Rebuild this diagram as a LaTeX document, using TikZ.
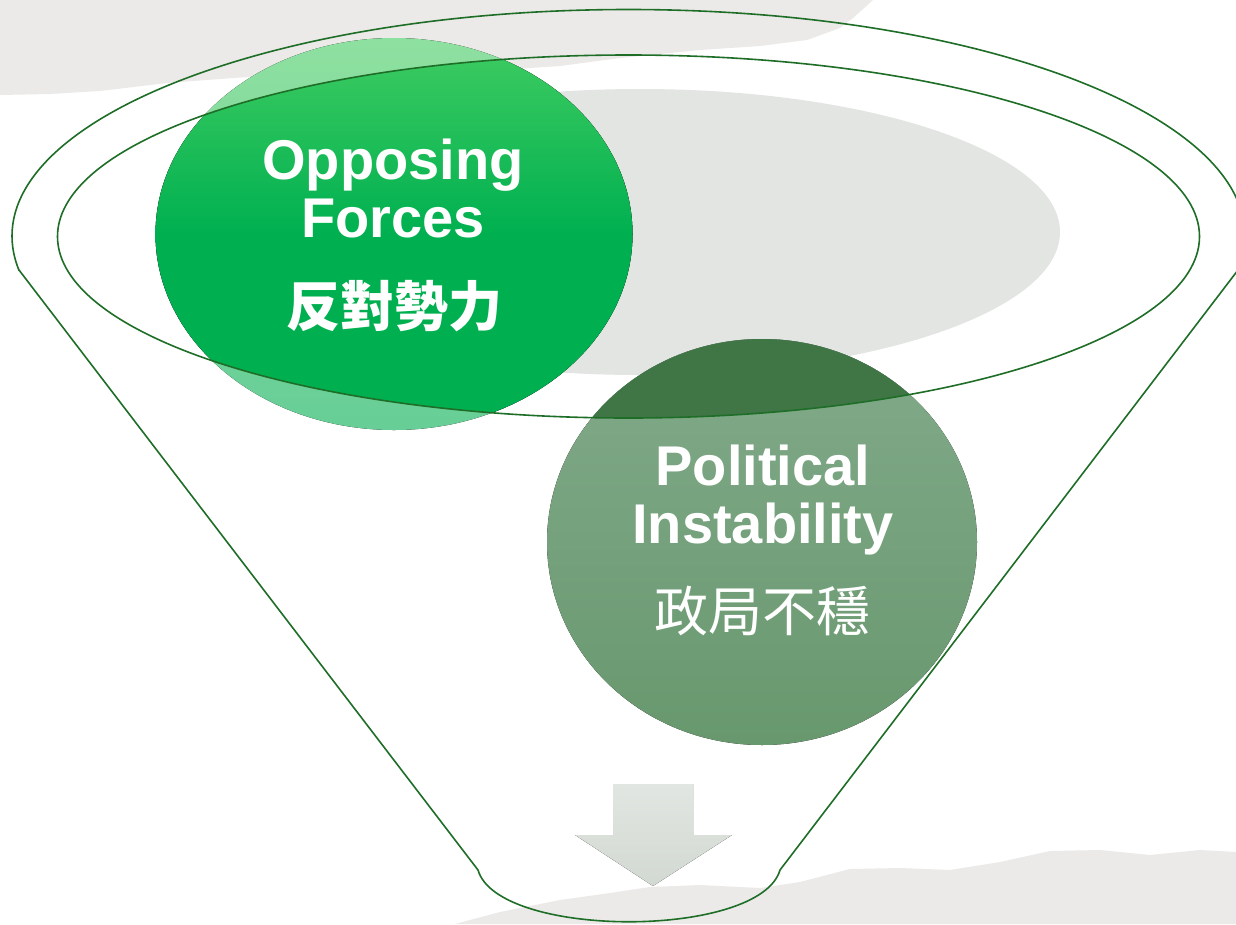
\documentclass[tikz,border=0pt]{standalone}
\usepackage{fontspec}
\setmainfont{Liberation Sans}
\newfontfamily\cjkfont{Noto Sans CJK TC}
\begin{document}
\begin{tikzpicture}[x=1pt,y=-1pt]
\definecolor{paper}{RGB}{236,234,232}
\definecolor{greyell}{RGB}{226,229,226}
\definecolor{funnelc}{RGB}{30,110,40}
\definecolor{gtop}{RGB}{64,204,98}
\definecolor{gmid}{RGB}{0,176,80}
\definecolor{gltop}{RGB}{142,224,160}
\definecolor{glbot}{RGB}{102,206,150}
\definecolor{ptop}{RGB}{130,170,138}
\definecolor{pbot}{RGB}{104,152,110}
\definecolor{pdark}{RGB}{64,118,70}
\definecolor{atop}{RGB}{226,230,226}
\definecolor{abot}{RGB}{210,216,210}
\tikzset{
  funnel/.style={draw=funnelc, line width=1.6pt, line join=round},
  en/.style={text=white, font=\fontsize{56}{60}\selectfont\bfseries, anchor=base, inner sep=0pt},
  zh/.style={text=white, font=\cjkfont\fontsize{54}{58}\selectfont, anchor=base, inner sep=0pt},
}
% canvas
\fill[white] (0,0) rectangle (1236,924);
\useasboundingbox (0,0) rectangle (1236,924);
% torn paper top
\fill[paper] (0,0) -- (0,95) -- (50,94) -- (100,91) -- (167,83) -- (233,78) -- (300,74)
  -- (400,72) -- (500,70) -- (560,66) -- (620,58) -- (700,50) -- (760,46) -- (807,40)
  -- (840,28) -- (853,18) -- (873,0) -- cycle;
% torn paper bottom
\fill[paper] (455,924) -- (500,912) -- (560,900) -- (610,893) -- (650,887) -- (700,885)
  -- (760,888) -- (800,882) -- (850,869) -- (900,868) -- (950,870) -- (1000,862)
  -- (1050,851) -- (1100,850) -- (1150,855) -- (1200,850) -- (1236,852) -- (1236,924) -- cycle;
% grey ellipse
\fill[greyell] (640,232) ellipse [x radius=420pt, y radius=143pt];
% light (outside) parts of circles
\fill[top color=gltop, bottom color=glbot] (394,234) ellipse [x radius=238.5pt, y radius=196pt];
\fill[top color=ptop, bottom color=pbot] (762,542) ellipse [x radius=215pt, y radius=203pt];
% dark (inside the rim) parts
\begin{scope}
  \clip (628.5,236.5) ellipse [x radius=571pt, y radius=181.5pt];
  \fill[top color=gtop, bottom color=gmid, middle color=gmid] (394,234) ellipse [x radius=238.5pt, y radius=196pt];
  \fill[pdark] (762,542) ellipse [x radius=215pt, y radius=203pt];
\end{scope}
% arrow
\fill[top color=atop, bottom color=abot] (613,784) -- (693,784) -- (693,835) -- (732,835)
  -- (653,886) -- (575,835) -- (613,835) -- cycle;
% funnel outline
\begin{scope}
  \clip (-10,-10) rectangle (1250,270);
  \draw[funnel] (628.5,236) ellipse [x radius=616.5pt, y radius=226.5pt];
\end{scope}
\coordinate (tl) at (19,270);
\coordinate (bl) at (478,870);
\coordinate (br) at (780,870);
\coordinate (tr) at (1238,270);
\draw[funnel] (tl) -- (bl) .. controls (498,939) and (760,939) .. (br) -- (tr);
\draw[funnel] (628.5,236.5) ellipse [x radius=571pt, y radius=181.5pt];
% texts
\node[en] (op1) at (393,179) {Opposing};
\node[en] (op2) at (393,237) {Forces};
\node[zh, font=\cjkfont\bfseries\fontsize{54}{58}\selectfont] (op3) at (394,326) {反對勢力};
\node[en] (pi1) at (763,485) {Political};
\node[en] (pi2) at (763,543) {Instability};
\node[zh] (pi3) at (762,631) {政局不穩};
\end{tikzpicture}
\end{document}
